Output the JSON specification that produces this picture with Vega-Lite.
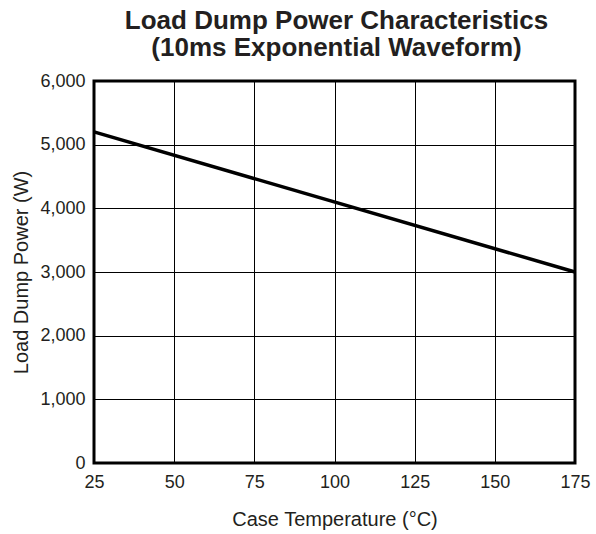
{
  "$schema": "https://vega.github.io/schema/vega-lite/v6.json",
  "width": 481,
  "height": 382,
  "autosize": {"type": "none"},
  "padding": {"left": 94, "top": 81, "right": 21, "bottom": 71},
  "background": "white",
  "title": {
    "text": ["Load Dump Power Characteristics", "(10ms Exponential Waveform)"],
    "font": "Liberation Sans",
    "fontSize": 26,
    "fontWeight": "bold",
    "color": "#231f20",
    "lineHeight": 27,
    "anchor": "middle",
    "dx": 2,
    "offset": 11
  },
  "config": {
    "view": {"stroke": "black", "strokeWidth": 3},
    "axis": {
      "labelFont": "Liberation Sans",
      "titleFont": "Liberation Sans",
      "labelFontSize": 18,
      "titleFontSize": 20,
      "titleFontWeight": "normal",
      "labelColor": "#231f20",
      "titleColor": "#231f20",
      "gridColor": "black",
      "gridOpacity": 1,
      "gridWidth": 1,
      "ticks": false,
      "domain": false
    }
  },
  "data": {
    "values": [
      {"temp": 25, "power": 5200},
      {"temp": 175, "power": 3000}
    ]
  },
  "mark": {"type": "line", "color": "black", "strokeWidth": 3.5},
  "encoding": {
    "x": {
      "field": "temp",
      "type": "quantitative",
      "scale": {"domain": [25, 175], "nice": false, "zero": false},
      "axis": {"values": [25, 50, 75, 100, 125, 150, 175], "title": "Case Temperature (°C)", "labelPadding": 10, "titlePadding": 18, "labelFlush": false}
    },
    "y": {
      "field": "power",
      "type": "quantitative",
      "scale": {"domain": [0, 6000], "nice": false},
      "axis": {"values": [0, 1000, 2000, 3000, 4000, 5000, 6000], "format": ",.0f", "title": "Load Dump Power (W)", "labelPadding": 9, "titlePadding": 8, "labelFlush": false}
    }
  }
}
